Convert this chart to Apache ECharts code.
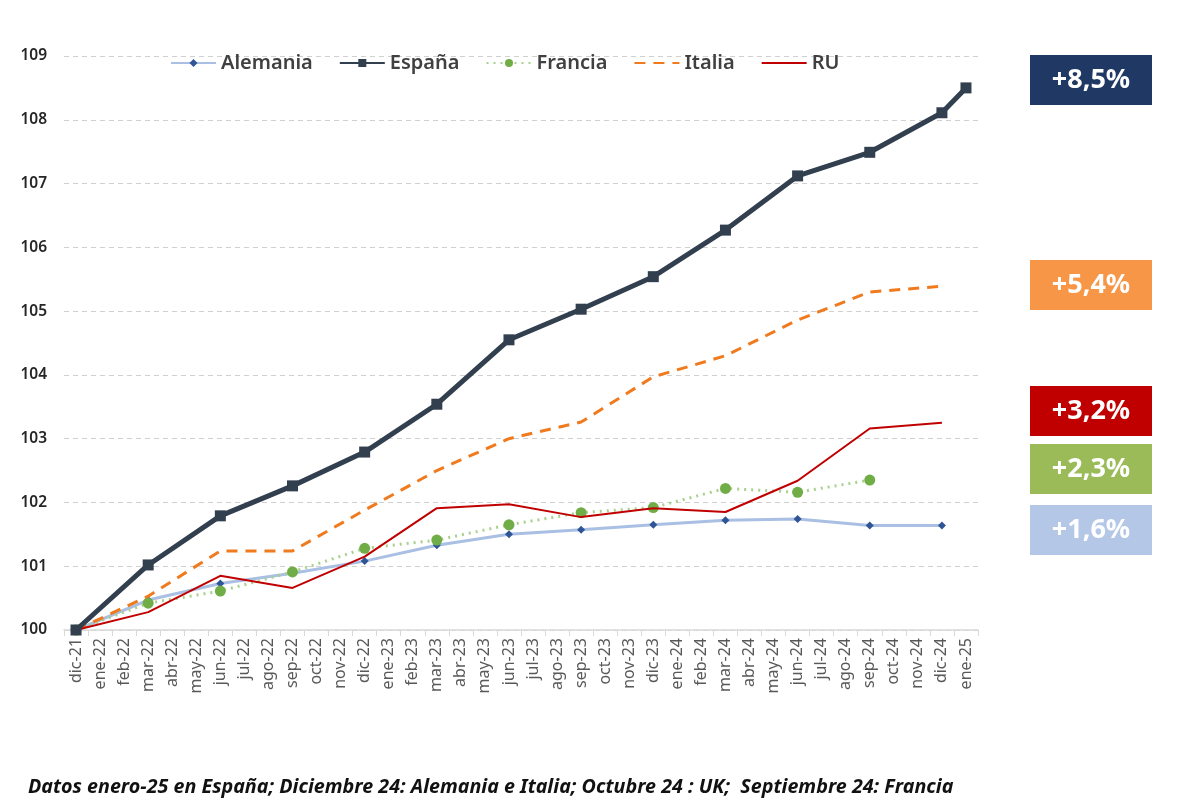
<!DOCTYPE html>
<html>
<head>
<meta charset="utf-8">
<script src="https://cdn.jsdelivr.net/npm/echarts@6/dist/echarts.min.js"></script>
<style>
html,body{margin:0;padding:0;background:#fff;}
#c{width:1200px;height:805px;}
</style>
</head>
<body>
<div id="c"></div>
<script>
const categories = ["dic-21","ene-22","feb-22","mar-22","abr-22","may-22","jun-22","jul-22","ago-22","sep-22","oct-22","nov-22","dic-22","ene-23","feb-23","mar-23","abr-23","may-23","jun-23","jul-23","ago-23","sep-23","oct-23","nov-23","dic-23","ene-24","feb-24","mar-24","abr-24","may-24","jun-24","jul-24","ago-24","sep-24","oct-24","nov-24","dic-24","ene-25"];
const _ = null;
const alemania = [100,_,_,100.47,_,_,100.73,_,_,100.89,_,_,101.08,_,_,101.33,_,_,101.5,_,_,101.57,_,_,101.65,_,_,101.72,_,_,101.74,_,_,101.64,_,_,101.64,_];
const espana   = [100,_,_,101.02,_,_,101.79,_,_,102.26,_,_,102.79,_,_,103.54,_,_,104.55,_,_,105.03,_,_,105.54,_,_,106.27,_,_,107.12,_,_,107.49,_,_,108.11,108.5];
const francia  = [100,_,_,100.42,_,_,100.61,_,_,100.91,_,_,101.28,_,_,101.41,_,_,101.65,_,_,101.84,_,_,101.92,_,_,102.22,_,_,102.16,_,_,102.35,_,_,_,_];
const italia   = [100,_,_,100.53,_,_,101.24,_,_,101.24,_,_,101.88,_,_,102.5,_,_,103.0,_,_,103.26,_,_,103.97,_,_,104.3,_,_,104.86,_,_,105.3,_,_,105.39,_];
const ru       = [100,_,_,100.28,_,_,100.85,_,_,100.66,_,_,101.15,_,_,101.91,_,_,101.97,_,_,101.77,_,_,101.91,_,_,101.85,_,_,102.34,_,_,103.16,_,_,103.25,_];
const yTicks = {min:100, max:109, interval:1};
const badges = [
  {text:"+8,5%", color:"#203864", top:55},
  {text:"+5,4%", color:"#F79646", top:260},
  {text:"+3,2%", color:"#C00000", top:386},
  {text:"+2,3%", color:"#9BBB59", top:444},
  {text:"+1,6%", color:"#B4C7E7", top:505}
];
const caption = "Datos enero-25 en España; Diciembre 24: Alemania e Italia; Octubre 24 : UK;  Septiembre 24: Francia";

const chart = echarts.init(document.getElementById('c'), null, {renderer:'canvas'});
const graphics = [];
badges.forEach(b => {
  graphics.push({type:'rect', left:1030, top:b.top, shape:{width:122, height:50}, style:{fill:b.color}, z:10});
  graphics.push({type:'text', z:11, x:1091, y:b.top+25,
    style:{text:b.text, fill:'#fff', font:'bold 27px "Noto Sans", sans-serif', textAlign:'center', textVerticalAlign:'middle'}});
});
graphics.push({type:'text', x:28, y:787, z:11,
  style:{text:caption, fill:'#111', font:'italic bold 19.7px "Noto Sans", sans-serif', textVerticalAlign:'middle'}});

const hide = {color:'rgba(0,0,0,0)', borderColor:'rgba(0,0,0,0)'};
const option = {
  animation:false,
  backgroundColor:'#fff',
  grid:{left:64, right:222, top:56, bottom:175, containLabel:false},
  legend:{
    top:48, left:165, itemWidth:45, itemHeight:10, itemGap:26,
    textStyle:{fontSize:20, color:'#404040', fontWeight:600, fontFamily:'"Noto Sans", sans-serif'},
    data:['Alemania','España','Francia',{name:'Italia', itemStyle:hide},{name:'RU', itemStyle:hide}]
  },
  xAxis:{
    type:'category', data:categories, boundaryGap:true,
    axisLine:{lineStyle:{color:'#D9D9D9', width:1.5}},
    axisTick:{show:true, lineStyle:{color:'#D9D9D9'}, length:6},
    axisLabel:{interval:0, rotate:90, fontSize:16, color:'#595959', margin:8, fontFamily:'"Noto Sans", sans-serif'}
  },
  yAxis:{
    type:'value', min:yTicks.min, max:yTicks.max, interval:yTicks.interval,
    axisLine:{show:false}, axisTick:{show:false},
    axisLabel:{fontSize:15.5, color:'#262626', fontWeight:600, margin:17, fontFamily:'"Noto Sans", sans-serif'},
    splitLine:{lineStyle:{color:'#D0D0D0', type:[5,4], width:1}}
  },
  series:[
    {name:'Alemania', type:'line', data:alemania, connectNulls:true, symbol:'diamond', symbolSize:8,
     lineStyle:{color:'#A9BFE3', width:3}, itemStyle:{color:'#2F5597'}, z:2},
    {name:'España', type:'line', data:espana, connectNulls:true, symbol:'rect', symbolSize:11,
     lineStyle:{color:'#323F4F', width:5}, itemStyle:{color:'#323F4F'}, z:6},
    {name:'Francia', type:'line', data:francia, connectNulls:true, symbol:'circle', symbolSize:11,
     lineStyle:{color:'#A9D18E', width:3, type:[2,5]}, itemStyle:{color:'#70AD47'}, z:3},
    {name:'Italia', type:'line', data:italia, connectNulls:true, symbol:'none',
     lineStyle:{color:'#F07A1E', width:3, type:[11,8]}, itemStyle:{color:'#F07A1E'}, z:4},
    {name:'RU', type:'line', data:ru, connectNulls:true, symbol:'none',
     lineStyle:{color:'#C00000', width:2}, itemStyle:{color:'#C00000'}, z:5}
  ],
  graphic:graphics
};
chart.setOption(option);
</script>
</body>
</html>
